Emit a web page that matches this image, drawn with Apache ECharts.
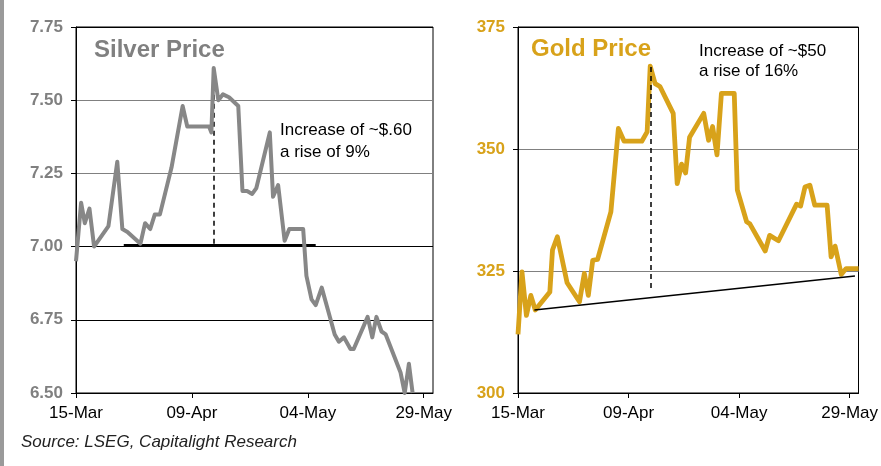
<!DOCTYPE html>
<html>
<head>
<meta charset="utf-8">
<script src="https://cdn.jsdelivr.net/npm/echarts@6/dist/echarts.min.js"></script>
<style>
  html, body { margin: 0; padding: 0; background: #fff; }
  #chart { width: 881px; height: 466px; }
</style>
</head>
<body>
<div id="chart"></div>
<script>
// x values are days counted from 15-Mar
var tickLabels = ['15-Mar', '09-Apr', '04-May', '29-May'];
var tickDays = [0, 25, 50, 75];

var silverDays = [0, 1.1, 1.9, 2.9, 3.9, 7, 8.9, 10, 11.1, 13.9, 14.9, 16, 17, 18.1, 20.6, 23, 24, 28.7, 29.2, 29.7,
    30.7, 31.7, 33, 35, 35.9, 36.9, 38, 38.9, 41.8, 42.5, 43.6, 45, 46, 49, 49.7, 50.8, 51.7, 53, 54.4, 55.8,
    56.7, 57.8, 59.2, 59.9, 62.9, 63.9, 64.8, 65.9, 66.8, 70, 70.9, 71.8, 72.6];
var silverPrice = [6.95, 7.15, 7.08, 7.13, 7.00, 7.07, 7.29, 7.06, 7.05, 7.01, 7.08, 7.06, 7.11, 7.11, 7.27, 7.48, 7.41, 7.41, 7.39, 7.61,
    7.50, 7.52, 7.51, 7.48, 7.19, 7.19, 7.18, 7.20, 7.39, 7.17, 7.21, 7.02, 7.06, 7.06, 6.90, 6.82, 6.80, 6.86, 6.78, 6.70,
    6.675, 6.69, 6.65, 6.65, 6.76, 6.69, 6.76, 6.71, 6.70, 6.57, 6.50, 6.60, 6.50];

var goldDays = [0, 0.9, 1.9, 2.9, 3.9, 7.2, 7.8, 8.9, 11.1, 13.9, 15, 15.9, 16.9, 18, 21, 22.7, 24, 28, 29.2, 29.9,
    31, 32.1, 35.1, 36, 37, 37.9, 38.8, 42, 43.1, 44, 45, 46, 48.9, 49.6, 51.7, 52.4, 55.9, 56.9, 58.9, 63,
    63.9, 64.9, 66, 67.1, 69.9, 70.8, 71.7, 73.1, 74.2, 77];
var goldPrice = [312, 324.8, 315.9, 320, 317, 320.7, 329.3, 332, 322.6, 318.7, 324.5, 320, 327.2, 327.4, 337.1, 354.2, 351.6, 351.6, 353.5, 367,
    363.4, 362.8, 357.3, 342.9, 346.9, 345.1, 352.4, 357.3, 351.8, 354.6, 348.8, 361.4, 361.4, 341.6, 335.1, 334.7, 329.1, 332.3, 331.2, 338.7,
    338.3, 342.2, 342.6, 338.5, 338.5, 327.9, 330.1, 324.3, 325.5, 325.5];

// annotation lines: [x, y] end points
var silverBase = [[10.3, 7.007], [51.7, 7.007]];
var silverPeak = [[29.7, 7.58], [29.7, 7.01]];
var goldTrend = [[3.7, 317], [76.2, 324]];
var goldPeak = [[30.0, 366.8], [30.0, 320.9]];

var SILVER = '#878787';
var GOLD = '#D8A21A';
var FONT = 'Liberation Sans';

function zip(xs, ys) {
    var out = [];
    for (var i = 0; i < xs.length; i++) {
        out.push([xs[i], ys[i]]);
    }
    return out;
}

function lineOf(pts, style) {
    return [{ coord: pts[0], lineStyle: style }, { coord: pts[1] }];
}

function xAxisFor(idx) {
    return {
        type: 'value', gridIndex: idx, min: 0, max: 77, interval: 25,
        axisLine: { show: true, lineStyle: { color: '#000', width: 1 } },
        axisTick: { show: true, length: 5, customValues: tickDays, lineStyle: { color: '#000' } },
        axisLabel: {
            customValues: tickDays, color: '#000', fontFamily: FONT, fontSize: 17, margin: 12,
            formatter: function (v) { return tickLabels[tickDays.indexOf(v)] || ''; }
        },
        splitLine: { show: false }
    };
}

function yAxisFor(idx, min, max, step, color, gridColors, digits) {
    return {
        type: 'value', gridIndex: idx, min: min, max: max, interval: step,
        axisLine: { show: true, lineStyle: { color: '#000', width: 1 } },
        axisTick: { show: true, length: 5, lineStyle: { color: '#000' } },
        axisLabel: {
            color: color, fontFamily: FONT, fontSize: 17, fontWeight: 'bold', margin: 13,
            formatter: function (v) { return v.toFixed(digits); }
        },
        splitLine: { show: true, lineStyle: { color: gridColors, width: 1 } }
    };
}

var myChart = echarts.init(document.getElementById('chart'));
var option = {
    animation: false,
    backgroundColor: '#fff',
    grid: [
        { left: 76, top: 27, width: 357, height: 366, show: true, borderColor: '#000', borderWidth: 1, backgroundColor: 'transparent' },
        { left: 518, top: 27, width: 345, height: 366, show: true, borderColor: '#000', borderWidth: 1, backgroundColor: 'transparent' }
    ],
    xAxis: [xAxisFor(0), xAxisFor(1)],
    yAxis: [
        yAxisFor(0, 6.5, 7.75, 0.25, '#808080', ['#000', '#000', '#000', '#808080', '#808080', '#000'], 2),
        yAxisFor(1, 300, 375, 25, GOLD, ['#000', '#808080', '#808080', '#000'], 0)
    ],
    series: [
        {
            type: 'line', xAxisIndex: 0, yAxisIndex: 0, data: zip(silverDays, silverPrice),
            showSymbol: false, lineStyle: { color: SILVER, width: 4, join: 'round' }, z: 3,
            markLine: {
                silent: true, symbol: 'none', label: { show: false }, z: 2,
                data: [
                    lineOf(silverBase, { color: '#000', width: 1.8, type: 'solid' }),
                    lineOf(silverPeak, { color: '#000', width: 1.5, type: [5, 4] })
                ]
            }
        },
        {
            type: 'line', xAxisIndex: 1, yAxisIndex: 1, data: zip(goldDays, goldPrice),
            showSymbol: false, lineStyle: { color: GOLD, width: 4.8, join: 'round' }, z: 3,
            markLine: {
                silent: true, symbol: 'none', label: { show: false }, z: 4,
                data: [
                    lineOf(goldTrend, { color: '#000', width: 1.5, type: 'solid' }),
                    lineOf(goldPeak, { color: '#000', width: 1.5, type: [5, 4] })
                ]
            }
        }
    ],
    graphic: [
        { type: 'rect', left: 0, top: 0, shape: { width: 4, height: 466 }, style: { fill: '#9a9a9a' } },
        {
            type: 'text', x: 94, y: 50,
            style: { text: 'Silver Price', fill: '#808080', font: 'bold 24px "Liberation Sans"', verticalAlign: 'middle' }
        },
        {
            type: 'text', x: 531, y: 49,
            style: { text: 'Gold Price', fill: GOLD, font: 'bold 24px "Liberation Sans"', verticalAlign: 'middle' }
        },
        {
            type: 'text', x: 280, y: 119,
            style: { text: 'Increase of ~$.60\na rise of 9%', fill: '#000', font: '17px "Liberation Sans"', lineHeight: 22 }
        },
        {
            type: 'text', x: 699, y: 41,
            style: { text: 'Increase of ~$50\na rise of 16%', fill: '#000', font: '17px "Liberation Sans"', lineHeight: 20 }
        },
        {
            type: 'text', x: 21, y: 442,
            style: { text: 'Source: LSEG, Capitalight Research', fill: '#222', font: 'italic 17px "Liberation Sans"', verticalAlign: 'middle' }
        }
    ]
};
myChart.setOption(option);
</script>
</body>
</html>
